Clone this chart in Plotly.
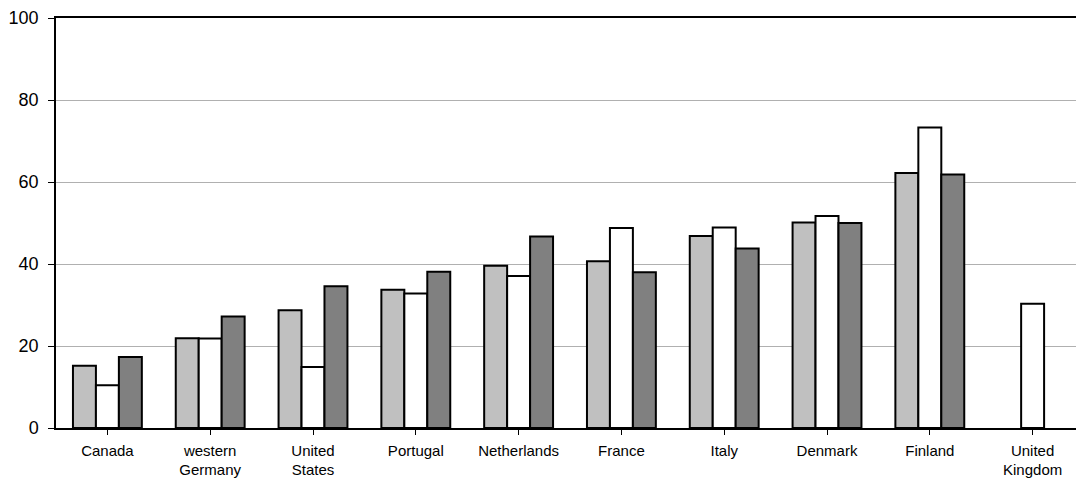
import plotly.graph_objects as go

categories = ["Canada", "western<br>Germany", "United<br>States", "Portugal", "Netherlands",
              "France", "Italy", "Denmark", "Finland", "United<br>Kingdom"]
series_light = [15.2, 21.9, 28.7, 33.7, 39.6, 40.7, 46.8, 50.1, 62.2, None]
series_white = [10.4, 21.8, 14.9, 32.8, 37.1, 48.8, 48.9, 51.7, 73.3, 30.3]
series_dark = [17.3, 27.2, 34.6, 38.1, 46.7, 38.0, 43.8, 50.0, 61.8, None]
y_ticks = [0, 20, 40, 60, 80, 100]

fig = go.Figure()
for name, vals, col in [("A", series_light, "#c0c0c0"),
                        ("B", series_white, "#ffffff"),
                        ("C", series_dark, "#808080")]:
    fig.add_trace(go.Bar(x=list(range(len(categories))), y=vals, name=name,
                         marker=dict(color=col, line=dict(color="#000000", width=2))))

fig.update_layout(
    width=1076, height=480,
    margin=dict(l=56, r=0, t=18, b=52),
    paper_bgcolor="white", plot_bgcolor="white",
    barmode="group", bargap=0.33, bargroupgap=0,
    showlegend=False,
    font=dict(family="Liberation Sans, Arial, sans-serif", color="#000000"),
)
fig.update_xaxes(
    range=[-0.5, 9.422], automargin=False,
    tickmode="array", tickvals=list(range(len(categories))), ticktext=categories,
    tickfont=dict(size=15, color="#000000"),
    showline=True, linecolor="#000000", linewidth=1.5, mirror=True,
    ticks="outside", ticklen=5, tickcolor="#000000", tickwidth=1,
    ticklabelstandoff=3,
    tickson="boundaries", showgrid=False, zeroline=False,
)
fig.update_yaxes(
    range=[0, 100], tickmode="array", tickvals=y_ticks, automargin=False,
    tickfont=dict(size=18, color="#000000"),
    showline=True, linecolor="#000000", linewidth=1.5,
    ticks="outside", ticklen=6, tickcolor="#000000", tickwidth=1,
    ticklabelstandoff=6,
    showgrid=True, gridcolor="#b0b0b0", gridwidth=1, zeroline=False,
)
fig.write_html("out.html", config={"displayModeBar": False},
               post_script="document.body.style.margin='0';document.body.style.overflow='hidden';")
